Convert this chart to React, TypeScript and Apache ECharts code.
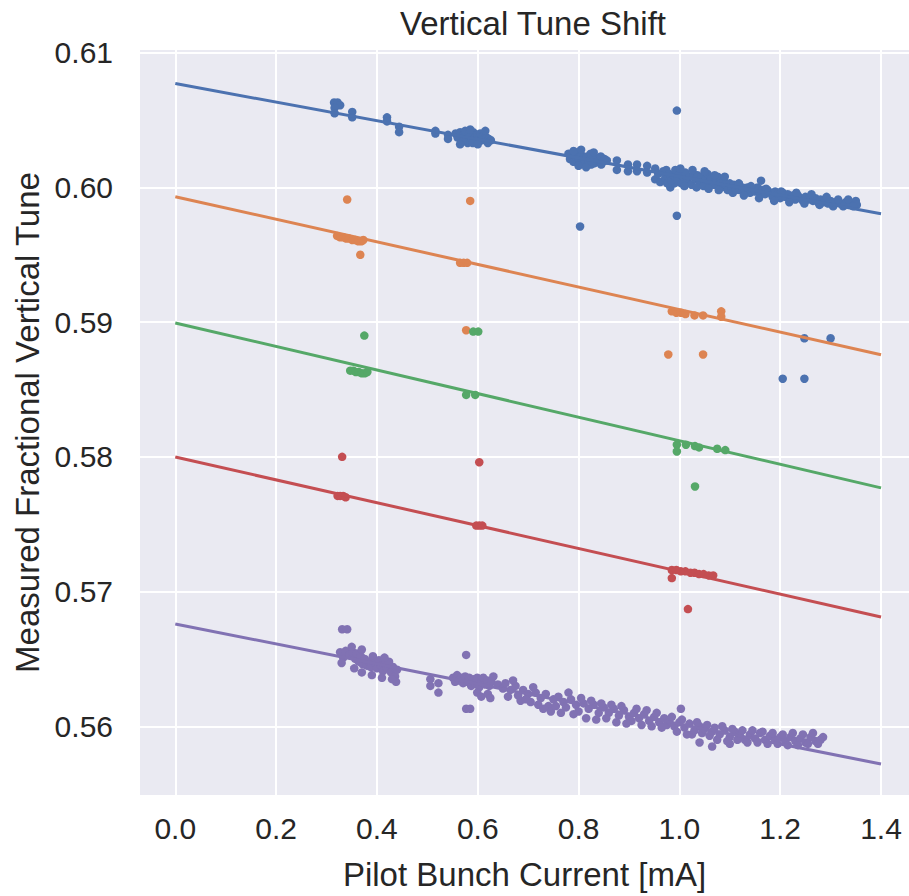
import React, { useEffect, useRef } from "react";
import * as echarts from "echarts";

const titleText = "Vertical Tune Shift";
const xAxisName = "Pilot Bunch Current [mA]";
const yAxisName = "Measured Fractional Vertical Tune";

const xTickValues = [0, 0.2, 0.4, 0.6, 0.8, 1.0, 1.2, 1.4];
const yTickValues = [0.56, 0.57, 0.58, 0.59, 0.6, 0.61];

const groupNames = ["blue", "orange", "green", "red", "purple"];
const groupColors = ["#4C72B0", "#DD8452", "#55A868", "#C44E52", "#8172B3"];

// fitted lines: [x, y] at both ends
const fitBlue = [[0, 0.60771], [1.4, 0.59805]];
const fitOrange = [[0, 0.59931], [1.4, 0.58758]];
const fitGreen = [[0, 0.58994], [1.4, 0.5777]];
const fitRed = [[0, 0.57999], [1.4, 0.56811]];
const fitPurple = [[0, 0.5676], [1.4, 0.5572]];

const pointsBlue = [
  [0.315, 0.6063], [0.322, 0.6063], [0.327, 0.6061], [0.316, 0.6059], [0.316, 0.6055],
  [0.351, 0.6056], [0.351, 0.6052], [0.42, 0.6052], [0.42, 0.6049], [0.444, 0.6045],
  [0.444, 0.6041], [0.516, 0.6042], [0.516, 0.604], [0.541, 0.6039], [0.541, 0.6036],
  [0.556, 0.604], [0.56, 0.6037], [0.565, 0.6041], [0.568, 0.6035], [0.572, 0.6039],
  [0.575, 0.6042], [0.578, 0.6036], [0.58, 0.6033], [0.583, 0.604], [0.586, 0.6038],
  [0.588, 0.6035], [0.591, 0.6041], [0.594, 0.6037], [0.596, 0.6034], [0.599, 0.6039],
  [0.602, 0.6036], [0.605, 0.604], [0.608, 0.6035], [0.611, 0.6038], [0.614, 0.6036],
  [0.618, 0.6037], [0.622, 0.6036], [0.626, 0.6035], [0.57, 0.6034], [0.59, 0.6033],
  [0.565, 0.6032], [0.585, 0.6043], [0.6, 0.6032], [0.615, 0.6042], [0.62, 0.6033],
  [0.78, 0.6025], [0.783, 0.6021], [0.786, 0.6024], [0.79, 0.6019], [0.793, 0.6023],
  [0.796, 0.6026], [0.8, 0.6021], [0.803, 0.6018], [0.806, 0.6024], [0.81, 0.6022],
  [0.813, 0.6019], [0.817, 0.6023], [0.82, 0.602], [0.824, 0.6025], [0.828, 0.6021],
  [0.832, 0.6018], [0.836, 0.6022], [0.84, 0.602], [0.844, 0.6023], [0.848, 0.6019],
  [0.852, 0.6021], [0.856, 0.602], [0.8, 0.6016], [0.825, 0.6017],
  [0.79, 0.6027], [0.805, 0.6028], [0.83, 0.6026], [0.845, 0.6017], [0.815, 0.6015],
  [0.876, 0.602], [0.876, 0.6013], [0.898, 0.6017], [0.898, 0.6012], [0.916, 0.6017],
  [0.916, 0.6012], [0.936, 0.6016], [0.936, 0.6011], [0.952, 0.6014], [0.952, 0.6006],
  [0.958, 0.601], [0.962, 0.6004], [0.974, 0.6013], [0.982, 0.6], [0.99, 0.6003],
  [0.968, 0.6012], [0.972, 0.6007], [0.976, 0.6003], [0.98, 0.601], [0.984, 0.6005],
  [0.988, 0.6009], [0.992, 0.6013], [0.996, 0.6006], [1.0, 0.601], [1.004, 0.6003],
  [1.008, 0.6008], [1.012, 0.6011], [1.016, 0.6005], [1.02, 0.6008], [1.024, 0.6002],
  [1.028, 0.601], [1.032, 0.6006], [1.036, 0.6009], [1.04, 0.6004], [1.044, 0.6008],
  [1.048, 0.6001], [1.052, 0.6006], [1.056, 0.601], [1.06, 0.6004], [1.064, 0.6007],
  [1.068, 0.6002], [1.072, 0.6005], [1.076, 0.6008], [1.08, 0.6003], [1.084, 0.6],
  [1.088, 0.6005], [1.092, 0.6002], [1.096, 0.5998], [1.1, 0.6003], [1.104, 0.6],
  [1.002, 0.6014], [1.01, 0.6001], [1.026, 0.6013], [1.034, 0.6], [1.05, 0.6012],
  [1.058, 0.5999], [1.07, 0.6009], [1.078, 0.5998], [1.09, 0.6008], [1.106, 0.5996],
  [1.108, 0.6002], [1.112, 0.5998], [1.116, 0.6001], [1.12, 0.5998], [1.125, 0.6],
  [1.13, 0.5997], [1.135, 0.6], [1.14, 0.5996], [1.145, 0.5999], [1.15, 0.5997],
  [1.155, 0.6], [1.162, 0.6005], [1.16, 0.5996], [1.165, 0.5998], [1.17, 0.5995],
  [1.175, 0.5998], [1.18, 0.5996], [1.185, 0.5993], [1.19, 0.5997], [1.195, 0.5995],
  [1.2, 0.5992], [1.205, 0.5996], [1.21, 0.5993], [1.215, 0.5995], [1.22, 0.5992],
  [1.225, 0.5994], [1.23, 0.5991], [1.235, 0.5994], [1.24, 0.5992], [1.245, 0.599],
  [1.25, 0.5993], [1.255, 0.5991], [1.26, 0.5993], [1.265, 0.599], [1.27, 0.5992],
  [1.275, 0.5989], [1.28, 0.5991], [1.285, 0.5989], [1.29, 0.5991], [1.295, 0.5988],
  [1.3, 0.599], [1.31, 0.5989], [1.32, 0.5988], [1.33, 0.5989], [1.34, 0.5987],
  [1.35, 0.599], [1.352, 0.5987],
  [1.118, 0.6003], [1.128, 0.5994], [1.142, 0.6001], [1.158, 0.5992], [1.172, 0.5999],
  [1.188, 0.599], [1.202, 0.5997], [1.218, 0.5989], [1.232, 0.5996], [1.248, 0.5988],
  [1.262, 0.5995], [1.278, 0.5987], [1.292, 0.5993], [1.305, 0.5986], [1.315, 0.5991],
  [1.325, 0.5986], [1.335, 0.5991], [1.345, 0.5986],
  [0.995, 0.6057], [0.995, 0.5979], [0.803, 0.5971], [1.248, 0.5888], [1.3, 0.5888],
  [1.205, 0.5858], [1.248, 0.5858],
];

const pointsOrange = [
  [0.341, 0.5991], [0.585, 0.599], [0.321, 0.5964], [0.327, 0.5963], [0.333, 0.5963],
  [0.339, 0.5962], [0.345, 0.5962], [0.351, 0.5961], [0.357, 0.5961], [0.363, 0.596],
  [0.369, 0.596], [0.373, 0.5961], [0.367, 0.595], [0.565, 0.5944], [0.572, 0.5944],
  [0.579, 0.5944], [0.985, 0.5908], [0.994, 0.5907], [1.003, 0.5907], [1.012, 0.5906],
  [1.03, 0.5905], [1.047, 0.5905], [1.083, 0.5908], [1.083, 0.5904], [0.978, 0.5876],
  [1.047, 0.5876], [0.577, 0.5894],
];

const pointsGreen = [
  [0.375, 0.589], [0.591, 0.5893], [0.601, 0.5893], [0.347, 0.5864], [0.353, 0.5864],
  [0.358, 0.5863], [0.364, 0.5863], [0.37, 0.5862], [0.376, 0.5862], [0.381, 0.5863],
  [0.577, 0.5846], [0.595, 0.5846], [0.995, 0.5809], [0.995, 0.5804], [1.013, 0.5809],
  [1.031, 0.5808], [1.039, 0.5807], [1.075, 0.5806], [1.091, 0.5805], [1.031, 0.5778],
];

const pointsRed = [
  [0.331, 0.58], [0.603, 0.5796], [0.322, 0.5771], [0.327, 0.5771], [0.333, 0.5771],
  [0.338, 0.577], [0.597, 0.5749], [0.603, 0.5749], [0.609, 0.5749], [0.985, 0.5716],
  [0.994, 0.5716], [1.003, 0.5715], [1.012, 0.5715], [1.022, 0.5714], [1.03, 0.5714],
  [1.039, 0.5713], [1.048, 0.5713], [1.058, 0.5712], [1.067, 0.5712], [0.985, 0.571],
  [1.017, 0.5687],
];

const pointsPurple = [
  [0.331, 0.5672], [0.341, 0.5672], [0.577, 0.5653], [0.577, 0.5613], [0.585, 0.5613],
  [1.003, 0.5613],
  [0.327, 0.5655], [0.333, 0.5651], [0.338, 0.5656], [0.345, 0.5653], [0.352, 0.5655],
  [0.357, 0.565], [0.36, 0.5654], [0.364, 0.5648], [0.368, 0.5652], [0.372, 0.5646],
  [0.376, 0.565], [0.38, 0.5645], [0.384, 0.5648], [0.388, 0.5644], [0.392, 0.5652],
  [0.396, 0.5647], [0.4, 0.5643], [0.404, 0.5649], [0.408, 0.5645], [0.412, 0.5641],
  [0.416, 0.5646], [0.42, 0.5643], [0.424, 0.5648], [0.428, 0.564], [0.432, 0.5644],
  [0.436, 0.5637], [0.44, 0.5642], [0.438, 0.5633], [0.33, 0.5647], [0.355, 0.5643],
  [0.37, 0.564], [0.39, 0.5638], [0.41, 0.5636], [0.43, 0.5635], [0.415, 0.5651],
  [0.35, 0.5659], [0.37, 0.5657],
  [0.506, 0.5635], [0.506, 0.563], [0.522, 0.5632], [0.522, 0.5625],
  [0.551, 0.5636], [0.555, 0.5633], [0.559, 0.5638], [0.563, 0.5634], [0.567, 0.5636],
  [0.571, 0.5632], [0.575, 0.5637], [0.579, 0.5633], [0.583, 0.5636], [0.587, 0.563],
  [0.591, 0.5635], [0.595, 0.5632], [0.599, 0.5636], [0.603, 0.5629], [0.607, 0.5633],
  [0.611, 0.5636], [0.615, 0.5631], [0.619, 0.5634], [0.623, 0.563], [0.627, 0.5633],
  [0.631, 0.5637], [0.599, 0.5625], [0.607, 0.5622], [0.62, 0.5624], [0.625, 0.5621],
  [0.64, 0.5631], [0.65, 0.5628], [0.655, 0.5632], [0.665, 0.5627], [0.675, 0.563],
  [0.68, 0.5623], [0.685, 0.5619], [0.69, 0.5627], [0.7, 0.5624], [0.705, 0.5618],
  [0.715, 0.5625], [0.725, 0.5621], [0.735, 0.5624], [0.74, 0.5615], [0.745, 0.5611],
  [0.75, 0.562], [0.76, 0.5622], [0.77, 0.5618], [0.775, 0.5614], [0.785, 0.562],
  [0.795, 0.5616], [0.8, 0.5611], [0.81, 0.5617], [0.82, 0.5613], [0.83, 0.5616],
  [0.84, 0.561], [0.85, 0.5614], [0.86, 0.561], [0.87, 0.5613], [0.88, 0.5608],
  [0.89, 0.5612], [0.9, 0.5607], [0.905, 0.5604], [0.91, 0.561], [0.92, 0.5606],
  [0.93, 0.5609], [0.94, 0.5604], [0.95, 0.5607], [0.96, 0.5603], [0.97, 0.5606],
  [0.975, 0.5601], [0.98, 0.5604], [0.99, 0.56], [1.0, 0.5603], [1.01, 0.5599],
  [1.02, 0.5602], [1.025, 0.5594], [1.03, 0.5597], [1.04, 0.56], [1.045, 0.5595],
  [1.05, 0.5598], [1.06, 0.5593], [1.065, 0.5596], [1.07, 0.5599], [1.08, 0.5594],
  [1.09, 0.5597], [1.1, 0.5592], [1.11, 0.5596], [1.12, 0.5593], [1.13, 0.559],
  [1.14, 0.5594], [1.15, 0.5591], [1.16, 0.5595], [1.17, 0.559], [1.18, 0.5593],
  [1.19, 0.559], [1.2, 0.5592], [1.21, 0.5589], [1.22, 0.5592], [1.23, 0.5589],
  [1.24, 0.5591], [1.25, 0.5588], [1.26, 0.5592], [1.27, 0.5589], [1.28, 0.559],
  [1.285, 0.5592], [1.04, 0.5588], [1.065, 0.5585], [1.1, 0.5587],
  [0.66, 0.5622], [0.67, 0.5634], [0.695, 0.562], [0.71, 0.5629], [0.72, 0.5616],
  [0.73, 0.5613], [0.755, 0.5615], [0.765, 0.561], [0.78, 0.5625], [0.79, 0.5609],
  [0.805, 0.5621], [0.815, 0.5606], [0.825, 0.5619], [0.835, 0.5605], [0.845, 0.5617],
  [0.855, 0.5606], [0.865, 0.5616], [0.875, 0.5603], [0.885, 0.5615], [0.895, 0.5602],
  [0.915, 0.5613], [0.925, 0.5601], [0.935, 0.5612], [0.945, 0.56], [0.955, 0.561],
  [0.965, 0.5599], [0.985, 0.5607], [0.995, 0.5596], [1.005, 0.5605], [1.015, 0.5594],
  [1.035, 0.5603], [1.055, 0.5601], [1.075, 0.559], [1.085, 0.56], [1.095, 0.5589],
  [1.105, 0.5598], [1.115, 0.559], [1.125, 0.5597], [1.135, 0.5588], [1.145, 0.5597],
  [1.155, 0.5588], [1.165, 0.5596], [1.175, 0.5587], [1.185, 0.5595], [1.195, 0.5587],
  [1.205, 0.5594], [1.215, 0.5586], [1.225, 0.5595], [1.235, 0.5586], [1.245, 0.5594],
  [1.255, 0.5587], [1.265, 0.5595], [1.275, 0.5587],
];

const allPoints = [pointsBlue, pointsOrange, pointsGreen, pointsRed, pointsPurple];
const allFits = [fitBlue, fitOrange, fitGreen, fitRed, fitPurple];

const FONT = "'Liberation Sans', Arial, sans-serif";
const TEXT = "#262626";

export default function App() {
  const ref = useRef<HTMLDivElement>(null);
  useEffect(() => {
    if (!ref.current) return;
    const chart = echarts.init(ref.current, undefined, { renderer: "svg" });
    const series: any[] = [];
    groupNames.forEach((name, i) => {
      series.push({
        name: name + "-points",
        type: "scatter",
        data: allPoints[i],
        symbolSize: 8.5,
        itemStyle: { color: groupColors[i], opacity: 1 },
        z: 2,
      });
    });
    groupNames.forEach((name, i) => {
      series.push({
        name: name + "-fit",
        type: "line",
        data: allFits[i],
        showSymbol: false,
        symbol: "none",
        lineStyle: { color: groupColors[i], width: 3 },
        z: 3,
      });
    });
    chart.setOption({
      animation: false,
      backgroundColor: "#ffffff",
      title: {
        text: titleText,
        left: 528,
        top: 2,
        textAlign: "center",
        textStyle: { fontFamily: FONT, fontSize: 33, fontWeight: "normal", color: TEXT },
      },
      grid: { left: 140, right: 0, top: 50, bottom: 96, backgroundColor: "#EAEAF2", show: true, borderWidth: 0 },
      xAxis: {
        type: "value",
        min: -0.07,
        max: 1.4555,
        name: xAxisName,
        nameLocation: "middle",
        nameGap: 63,
        nameTextStyle: { fontFamily: FONT, fontSize: 33, color: TEXT },
        axisLine: { show: false },
        axisTick: { show: false, customValues: xTickValues },
        axisLabel: {
          customValues: xTickValues,
          margin: 18,
          fontFamily: FONT,
          fontSize: 30,
          color: TEXT,
          formatter: (v: number) => v.toFixed(1),
        },
        splitLine: { show: true, lineStyle: { color: "#ffffff", width: 2 } },
      },
      yAxis: {
        type: "value",
        min: 0.5549,
        max: 0.6102,
        name: yAxisName,
        nameLocation: "middle",
        nameGap: 94,
        nameTextStyle: { fontFamily: FONT, fontSize: 33, color: TEXT },
        axisLine: { show: false },
        axisTick: { show: false, customValues: yTickValues },
        axisLabel: {
          customValues: yTickValues,
          margin: 27,
          fontFamily: FONT,
          fontSize: 30,
          color: TEXT,
          formatter: (v: number) => v.toFixed(2),
        },
        splitLine: { show: true, lineStyle: { color: "#ffffff", width: 2 } },
      },
      series,
    });
    return () => chart.dispose();
  }, []);
  return (
    <div
      ref={ref}
      style={{ position: "absolute", left: 0, top: 0, width: 909, height: 896 }}
    />
  );
}
